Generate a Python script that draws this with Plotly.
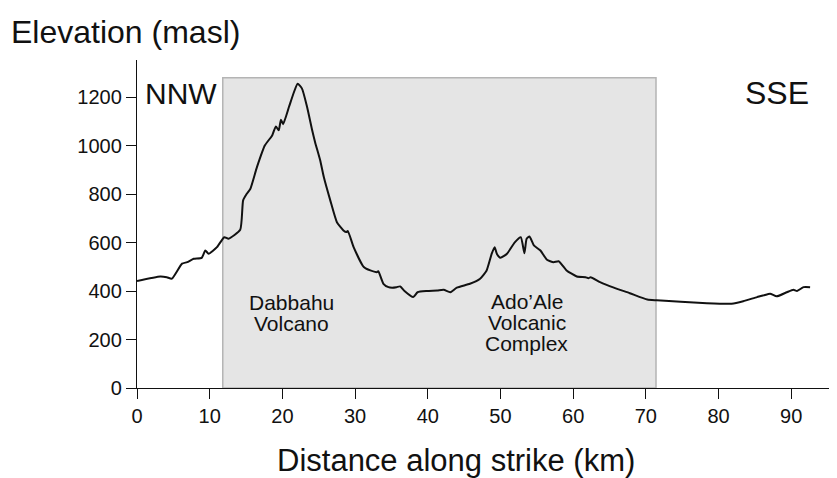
import plotly.graph_objects as go

# Elevation profile along strike
distance_km = [0.0, 3.2, 4.1, 4.8, 6.2, 6.9, 7.8, 8.9, 9.4, 9.85, 11.0, 12.0, 12.6, 14.2, 14.6,
               15.1, 15.6, 16.5, 17.6, 18.6, 19.1, 19.5, 19.8, 20.1, 20.9, 21.6, 22.1, 22.7,
               23.4, 24.1, 24.5, 25.2, 25.7, 26.6, 27.5, 28.4, 28.8, 29.0, 29.8, 31.2, 32.1,
               33.0, 33.2, 33.9, 34.6, 35.1, 35.7, 36.2, 36.8, 38.0, 38.6, 39.9, 41.3, 42.2,
               43.1, 44.0, 45.8, 47.2, 48.1, 48.8, 49.2, 49.5, 50.0, 50.9, 52.0, 52.8, 53.3,
               53.6, 54.0, 54.6, 55.5, 56.4, 57.3, 58.0, 59.1, 60.5, 61.7, 62.1, 62.4, 63.7,
               65.6, 67.8, 70.2, 71.5, 74.8, 78.4, 81.8, 83.4, 85.3, 86.2, 87.1, 88.0, 89.4,
               90.3, 90.8, 91.7, 92.6]
elevation_m = [441, 460, 457, 451, 513, 519, 533, 537, 567, 554, 581, 622, 616, 653, 774,
               801, 822, 911, 1001, 1042, 1079, 1063, 1107, 1088, 1159, 1221, 1255, 1235,
               1159, 1063, 1014, 939, 870, 773, 684, 650, 643, 648, 581, 499, 485,
               478, 482, 430, 416, 414, 416, 419, 400, 375, 395, 400, 402, 405,
               395, 414, 430, 451, 485, 554, 581, 554, 537, 554, 602, 622, 556,
               616, 625, 588, 567, 529, 519, 523, 485, 460, 457, 453, 457, 437,
               414, 391, 365, 362, 356, 350, 348, 358, 375, 382, 389, 378, 395,
               405, 400, 416, 416]

# Shaded zone (km, m)
zone_start_km = 11.8
zone_end_km = 71.4
zone_top_m = 1280

x_ticks = [0, 10, 20, 30, 40, 50, 60, 70, 80, 90]
y_ticks = [0, 200, 400, 600, 800, 1000, 1200]

FONT = "Liberation Sans, Arial, sans-serif"

fig = go.Figure()
fig.add_trace(go.Scatter(x=distance_km, y=elevation_m, mode="lines",
                         line=dict(color="#111111", width=2, shape="spline", smoothing=0.5),
                         hoverinfo="skip", showlegend=False))

fig.add_shape(type="rect", xref="x", yref="y", x0=zone_start_km, x1=zone_end_km,
              y0=0, y1=zone_top_m, fillcolor="#e5e5e5",
              line=dict(color="#b4b4b4", width=1.5), layer="below")

annos = [
    dict(text="Elevation (masl)", x=-0.183, y=1.086, xanchor="left", yanchor="middle", size=32),
    dict(text="Distance along strike (km)", x=0.4564, y=-0.222, xanchor="center", yanchor="middle", size=31),
    dict(text="NNW", x=0.0086, y=0.899, xanchor="left", yanchor="middle", size=30),
    dict(text="SSE", x=0.963, y=0.899, xanchor="right", yanchor="middle", size=32),
]
layout_annos = []
for a in annos:
    layout_annos.append(dict(text=a["text"], x=a["x"], y=a["y"], xref="paper", yref="paper",
                             xanchor=a["xanchor"], yanchor=a["yanchor"], showarrow=False,
                             font=dict(family=FONT, size=a["size"], color="#111111")))

label_lines = [
    ("Dabbahu", 21.3, 353), ("Volcano", 21.3, 268),
    ("Ado\u2019Ale", 53.6, 355), ("Volcanic", 53.6, 270), ("Complex", 53.6, 185),
]
for t, xx, yy in label_lines:
    layout_annos.append(dict(text=t, x=xx, y=yy, xref="x", yref="y", showarrow=False,
                             xanchor="center", yanchor="middle",
                             font=dict(family=FONT, size=21, color="#111111")))

# page body has an 8px margin, so the figure is sized/offset to compensate
fig.update_layout(
    width=829, height=470,
    margin=dict(l=129, r=0, t=52, b=90),
    paper_bgcolor="white", plot_bgcolor="white",
    font=dict(family=FONT, size=20, color="#111111"),
    annotations=layout_annos,
    showlegend=False,
)
fig.update_xaxes(range=[0, 96.3], tickvals=x_ticks, ticks="outside", ticklen=10, tickwidth=1.2,
                 tickcolor="#111111", showline=True, linecolor="#111111", linewidth=1.3,
                 showgrid=False, zeroline=False, tickfont=dict(size=20))
fig.update_yaxes(range=[0, 1353], tickvals=y_ticks, ticks="outside", ticklen=10, tickwidth=1.2,
                 tickcolor="#111111", showline=True, linecolor="#111111", linewidth=1.3,
                 showgrid=False, zeroline=False, tickfont=dict(size=20))

fig.write_html("out.html")
